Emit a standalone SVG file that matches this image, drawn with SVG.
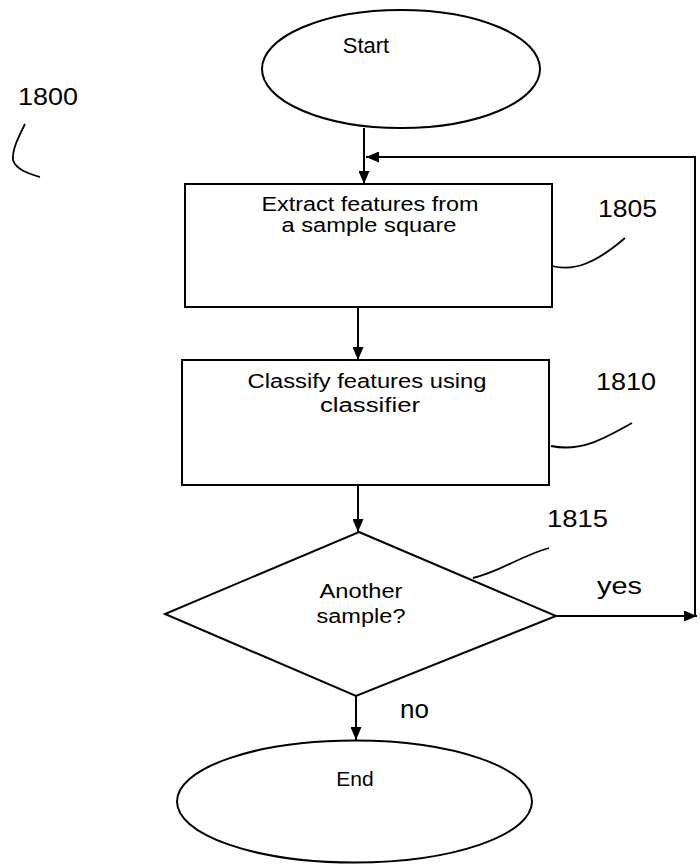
<svg xmlns="http://www.w3.org/2000/svg" width="700" height="865" viewBox="0 0 700 865">
<defs>
<marker id="ah" viewBox="0 0 13 11" refX="13" refY="5.5" markerWidth="13" markerHeight="11" markerUnits="userSpaceOnUse" orient="auto">
<path d="M0,0 L13,5.5 L0,11 Z" fill="#000"/>
</marker>
<style>
.shape{fill:#fff;stroke:#000;stroke-width:2}
.t{font-family:"Liberation Sans",Arial,sans-serif;font-size:20px;fill:#000;text-anchor:middle}
.ref{font-family:"Liberation Sans",Arial,sans-serif;font-size:24px;fill:#000}
.lbl{font-family:"Liberation Sans",Arial,sans-serif;font-size:24px;fill:#000}
.conn{fill:none;stroke:#000;stroke-width:2}
.lead{fill:none;stroke:#000;stroke-width:1.8}
</style>
</defs>
<rect width="700" height="865" fill="#fff"/>
<g id="label-1800">
<text class="ref" x="18" y="105" textLength="60" lengthAdjust="spacingAndGlyphs">1800</text>
<path class="lead" d="M25,124 C18,138 12,150 13,160 C16,170 30,174 40,177"/>
</g>
<g id="start">
<ellipse class="shape" cx="401" cy="69" rx="139" ry="59"/>
<text class="t" x="366" y="53" style="font-size:22px">Start</text>
</g>
<g id="n1805">
<rect class="shape" x="185" y="184" width="367" height="123"/>
<text class="t" x="370" y="211" textLength="217" lengthAdjust="spacingAndGlyphs">Extract features from</text>
<text class="t" x="369" y="232" textLength="175" lengthAdjust="spacingAndGlyphs">a sample square</text>
<text class="ref" x="598" y="217" textLength="59" lengthAdjust="spacingAndGlyphs">1805</text>
<path class="lead" d="M552,266 C575,272 597,262 625,238"/>
</g>
<g id="n1810">
<rect class="shape" x="182" y="360" width="367" height="125"/>
<text class="t" x="367" y="388" textLength="239" lengthAdjust="spacingAndGlyphs">Classify features using</text>
<text class="t" x="370" y="412" textLength="100" lengthAdjust="spacingAndGlyphs">classifier</text>
<text class="ref" x="596" y="390" textLength="60" lengthAdjust="spacingAndGlyphs">1810</text>
<path class="lead" d="M551,446 C580,452 602,440 632,423"/>
</g>
<g id="n1815">
<polygon class="shape" points="359,532 556,616 356,696 165,614"/>
<text class="t" x="361" y="598" textLength="83" lengthAdjust="spacingAndGlyphs">Another</text>
<text class="t" x="361" y="623" textLength="89" lengthAdjust="spacingAndGlyphs">sample?</text>
<text class="ref" x="547" y="527" textLength="61" lengthAdjust="spacingAndGlyphs">1815</text>
<path class="lead" d="M473,578 C500,572 520,556 549,548"/>
</g>
<g id="end">
<ellipse class="shape" cx="354.5" cy="801.5" rx="177.5" ry="61"/>
<text class="t" x="355" y="786" style="font-size:21px">End</text>
</g>
<g id="connectors">
<line class="conn" x1="364" y1="128" x2="364" y2="184" marker-end="url(#ah)"/>
<line class="conn" x1="358" y1="307" x2="358" y2="360" marker-end="url(#ah)"/>
<line class="conn" x1="358" y1="485" x2="358" y2="532" marker-end="url(#ah)"/>
<line class="conn" x1="356" y1="696" x2="356" y2="740" marker-end="url(#ah)"/>
<line class="conn" x1="556" y1="616" x2="697" y2="616" marker-end="url(#ah)"/>
<polyline class="conn" points="695,616 695,157 366,157" marker-end="url(#ah)"/>
<text class="lbl" x="597" y="594" textLength="45" lengthAdjust="spacingAndGlyphs">yes</text>
<text class="lbl" x="400" y="718" style="font-size:26px">no</text>
</g>
</svg>
